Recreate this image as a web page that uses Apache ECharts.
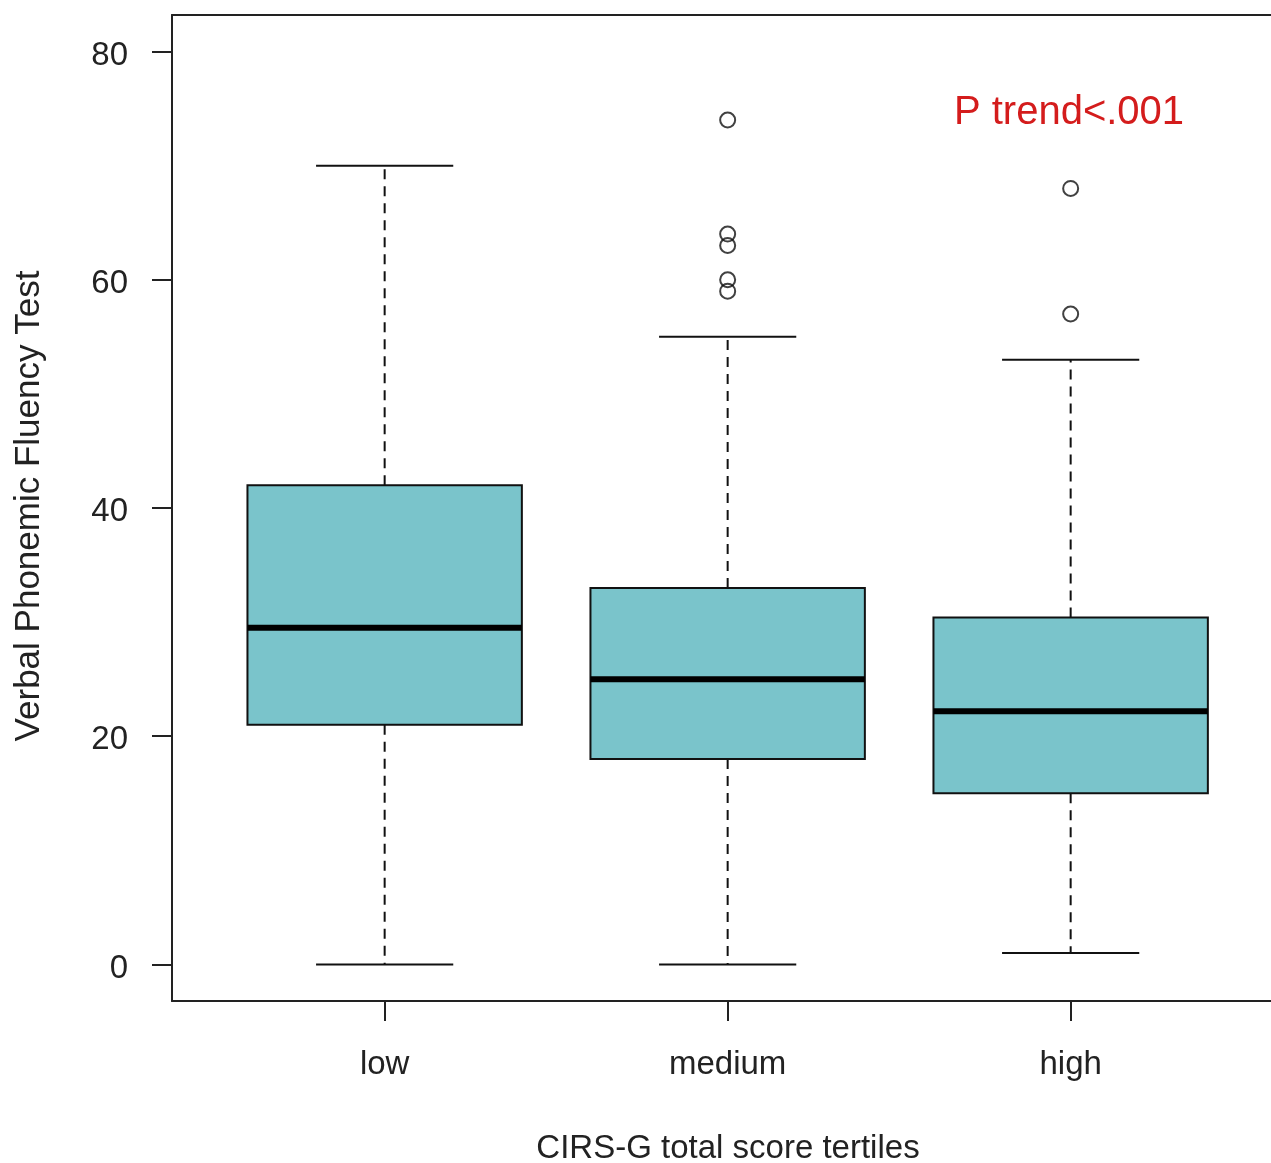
<!DOCTYPE html>
<html>
<head>
<meta charset="utf-8">
<script src="https://cdn.jsdelivr.net/npm/echarts@6/dist/echarts.min.js"></script>
<style>html,body{margin:0;padding:0;background:#fff;}#c{width:1271px;height:1163px;}</style>
</head>
<body>
<div id="c"></div>
<script>
const categories = ['low', 'medium', 'high'];
const whiskerLow = [0, 0, 1];
const q1 = [21, 18, 15];
const median = [29.5, 25, 22.2];
const q3 = [42, 33, 30.4];
const whiskerHigh = [70, 55, 53];
const outliers = [[], [74, 64, 63, 60, 59], [68, 57]];
const yTicks = [0, 20, 40, 60, 80];
const xTicks = [1, 2, 3];

const boxData = categories.map((c, i) => [i + 1, whiskerLow[i], q1[i], median[i], q3[i], whiskerHigh[i]]);
const outlierData = [];
outliers.forEach((arr, i) => arr.forEach(v => outlierData.push([i + 1, v])));

// plot region: left edge at x=172, 343 px per category unit; right edge clipped by the canvas
const GRID_LEFT = 172, GRID_WIDTH = 1271 - 172, PX_PER_UNIT = 343;
const X_MIN = 0.38, X_MAX = X_MIN + GRID_WIDTH / PX_PER_UNIT;

const chart = echarts.init(document.getElementById('c'), null, {renderer: 'canvas'});
const textColor = '#222';
const frameLine = {color: '#222', width: 2};
chart.setOption({
  backgroundColor: '#fff',
  animation: false,
  grid: {left: GRID_LEFT, top: 15, width: GRID_WIDTH, height: 986, show: false},
  xAxis: [{
    type: 'value', min: X_MIN, max: X_MAX, position: 'bottom',
    axisLine: {show: true, onZero: false, lineStyle: frameLine},
    splitLine: {show: false},
    axisTick: {show: true, inside: false, length: 20, customValues: xTicks, lineStyle: frameLine},
    axisLabel: {customValues: xTicks, margin: 47, fontSize: 33, fontFamily: 'Liberation Sans', color: textColor,
      formatter: v => categories[Math.round(v) - 1] || ''}
  }, {
    type: 'value', min: X_MIN, max: X_MAX, position: 'top',
    axisLine: {show: true, onZero: false, lineStyle: frameLine},
    splitLine: {show: false}, axisTick: {show: false}, axisLabel: {show: false}
  }],
  yAxis: {
    type: 'value', min: -3.2, max: 83.2,
    axisLine: {show: true, onZero: false, lineStyle: frameLine},
    splitLine: {show: false},
    axisTick: {show: true, inside: false, length: 20, customValues: yTicks, lineStyle: frameLine},
    axisLabel: {customValues: yTicks, margin: 44, fontSize: 33, fontFamily: 'Liberation Sans', color: textColor,
      formatter: v => '{n|' + v + '}',
      rich: {n: {fontSize: 33, fontFamily: 'Liberation Sans', color: textColor, padding: [8, 0, 0, 0]}}}
  },
  series: [
    {
      type: 'custom',
      data: boxData,
      encode: {x: 0, y: [1, 2, 3, 4, 5]},
      renderItem: function (params, api) {
        const x = api.value(0);
        const band = api.size([1, 0])[0];
        const hw = band * 0.4, cw = band * 0.2;
        const pMin = api.coord([x, api.value(1)]);
        const pQ1 = api.coord([x, api.value(2)]);
        const pMed = api.coord([x, api.value(3)]);
        const pQ3 = api.coord([x, api.value(4)]);
        const pMax = api.coord([x, api.value(5)]);
        const cx = pMin[0];
        const dash = {stroke: '#111', lineWidth: 2, lineDash: [10, 7]};
        const solid = {stroke: '#111', lineWidth: 2};
        return {
          type: 'group',
          children: [
            {type: 'line', shape: {x1: cx, y1: pQ1[1], x2: cx, y2: pMin[1]}, style: dash},
            {type: 'line', shape: {x1: cx, y1: pQ3[1], x2: cx, y2: pMax[1]}, style: dash},
            {type: 'line', shape: {x1: cx - cw, y1: pMin[1], x2: cx + cw, y2: pMin[1]}, style: solid},
            {type: 'line', shape: {x1: cx - cw, y1: pMax[1], x2: cx + cw, y2: pMax[1]}, style: solid},
            {type: 'rect', shape: {x: cx - hw, y: pQ3[1], width: 2 * hw, height: pQ1[1] - pQ3[1]},
              style: {fill: '#7AC4CB', stroke: '#111', lineWidth: 2}},
            {type: 'line', shape: {x1: cx - hw, y1: pMed[1], x2: cx + hw, y2: pMed[1]}, style: {stroke: '#000', lineWidth: 6}}
          ]
        };
      }
    },
    {
      type: 'scatter',
      data: outlierData,
      symbol: 'circle',
      symbolSize: 15,
      itemStyle: {color: 'rgba(0,0,0,0)', borderColor: '#111', borderWidth: 2}
    }
  ],
  graphic: [
    {type: 'text', x: 1069, y: 113, style: {text: 'P trend<.001', fill: '#d41c1c', font: '40px "Liberation Sans"', textAlign: 'center', textVerticalAlign: 'middle'}},
    {type: 'text', x: 728, y: 1149, style: {text: 'CIRS-G total score tertiles', fill: textColor, font: '33px "Liberation Sans"', textAlign: 'center', textVerticalAlign: 'middle'}},
    {type: 'text', x: 29, y: 506, rotation: Math.PI / 2, style: {text: 'Verbal Phonemic Fluency Test', fill: textColor, font: '35px "Liberation Sans"', textAlign: 'center', textVerticalAlign: 'middle'}}
  ]
});
</script>
</body>
</html>
